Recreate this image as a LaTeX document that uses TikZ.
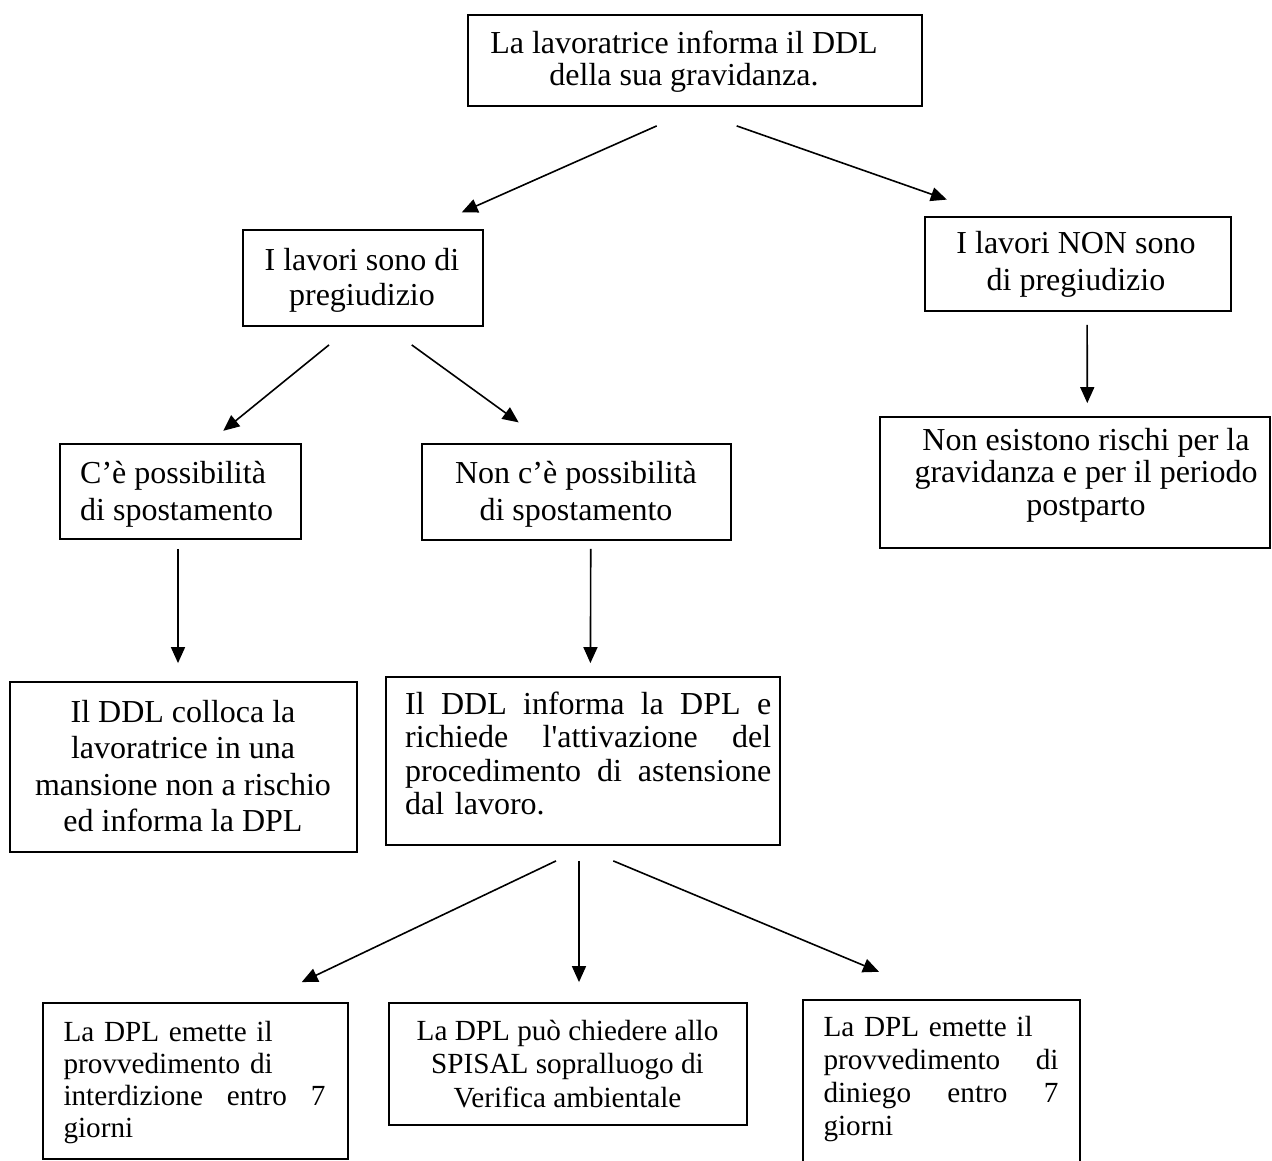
\documentclass[tikz,border=0pt]{standalone}
\usepackage{fontspec}
\setmainfont{Liberation Serif}[Ligatures=TeXOff]
\usetikzlibrary{arrows.meta}
\newcommand{\jline}[2]{\leavevmode\hbox to #1{#2}}
\tikzset{
  box/.style={draw=black, line width=1.8pt, rectangle, inner sep=0pt},
  big/.style={font=\fontsize{32}{#1}\selectfont},
  small/.style={font=\fontsize{29.2}{#1}\selectfont},
  ctxt/.style={inner sep=0pt, anchor=base, align=center},
  ltxt/.style={inner sep=0pt, anchor=base west, align=left},
  arr/.style={line width=1.6pt, -{Triangle[length=16pt,width=14pt]}},
}
\begin{document}
\begin{tikzpicture}[x=1pt, y=-1pt]
\fill[white] (0,0) rectangle (1272,1160);
\useasboundingbox (0,0) rectangle (1272,1160);

% boxes
\node[box, minimum width=454pt, minimum height=91pt] (top) at (695,60.5) {};
\node[box, minimum width=240.6pt, minimum height=95.7pt] (sono) at (363,277.85) {};
\node[box, minimum width=305.7pt, minimum height=94.3pt] (non) at (1077.85,263.85) {};
\node[box, minimum width=241pt, minimum height=95pt] (ce) at (180.5,491.5) {};
\node[box, minimum width=309.3pt, minimum height=96pt] (nce) at (576.35,492) {};
\node[box, minimum width=390pt, minimum height=131.6pt] (nes) at (1075,482.5) {};
\node[box, minimum width=347pt, minimum height=170pt] (coll) at (183.5,767) {};
\node[box, minimum width=394pt, minimum height=168pt] (inf) at (583,761) {};
\node[box, minimum width=305pt, minimum height=156.3pt] (inter) at (195.2,1080.85) {};
\node[box, minimum width=357.4pt, minimum height=122.3pt] (spi) at (568,1063.85) {};
\node[box, minimum width=277.3pt, minimum height=190pt] (din) at (941.35,1095) {};

% centred texts (positions are last-line baselines)
\node[ctxt, big=32pt] (topT) at (684,85) {La lavoratrice informa il DDL\\della sua gravidanza.};
\node[ctxt, big=35pt] (sonoT) at (362,305) {I lavori sono di\\pregiudizio};
\node[ctxt, big=37pt] (nonT) at (1076,290) {I lavori NON sono\\di pregiudizio};
\node[ltxt, big=37pt] (ceT) at (80,520) {C’è possibilità\\di spostamento};
\node[ctxt, big=37pt] (nceT) at (576,520) {Non c’è possibilità\\di spostamento};
\node[ctxt, big=32.5pt] (nesT) at (1086,515) {Non esistono rischi per la\\gravidanza e per il periodo\\postparto};
\node[ctxt, big=36.5pt] (collT) at (183,831.5) {Il DDL colloca la\\lavoratrice in una\\mansione non a rischio\\ed informa la DPL};
\node[ctxt, small=33.3pt] (spiT) at (567.5,1107) {La DPL può chiedere allo\\SPISAL sopralluogo di\\Verifica ambientale};

% justified texts (positions are first-line baselines)
\node[ltxt, big=33.5pt, text width=366pt] (infT) at (405,714) {%
  \jline{366pt}{Il\hfill DDL\hfill informa\hfill la\hfill DPL\hfill e}\\
  \jline{366pt}{richiede\hfill l'attivazione\hfill del}\\
  \jline{366pt}{procedimento\hfill di\hfill astensione}\\
  \jline{366pt}{dal lavoro.\hfil}};
\node[ltxt, small=32pt, text width=262pt] (interT) at (63.3,1041.7) {%
  \jline{262pt}{La DPL emette il\hfil}\\
  \jline{262pt}{provvedimento di\hfil}\\
  \jline{262pt}{interdizione\hfill entro\hfill 7}\\
  \jline{262pt}{giorni\hfil}};
\node[ltxt, small=33pt, text width=235pt] (dinT) at (823.3,1036.7) {%
  \jline{235pt}{La DPL emette il\hfil}\\
  \jline{235pt}{provvedimento\hfill di}\\
  \jline{235pt}{diniego\hfill entro\hfill 7}\\
  \jline{235pt}{giorni\hfil}};

% arrows
\draw[arr] ([shift={(-38.3,19)}]top.south) -- ([shift={(98.7,-16.7)}]sono.north);
\draw[arr] ([shift={(41.7,19)}]top.south) -- ([shift={(-131,-16.2)}]non.north);
\draw[arr] ([shift={(-34,18.3)}]sono.south) -- ([shift={(42.8,-12.3)}]ce.north);
\draw[arr] ([shift={(48.7,18.3)}]sono.south) -- ([shift={(-57.7,-20.7)}]nce.north);
\draw[arr] ([shift={(9.3,13)}]non.south) -- ([shift={(12.3,-12.7)}]nes.north);
\draw[arr] ([shift={(-2.5,9)}]ce.south) -- ([shift={(-5.5,-18)}]coll.north);
\draw[arr] ([shift={(14.4,8)}]nce.south) -- ([shift={(7.4,-13)}]inf.north);
\draw[arr] ([shift={(-27,15)}]inf.south) -- ([shift={(106.5,-19.7)}]inter.north);
\draw[arr] ([shift={(-4,15)}]inf.south) -- ([shift={(11,-19.7)}]spi.north);
\draw[arr] ([shift={(30.3,15)}]inf.south) -- ([shift={(-62.35,-27.3)}]din.north);
\end{tikzpicture}
\end{document}
